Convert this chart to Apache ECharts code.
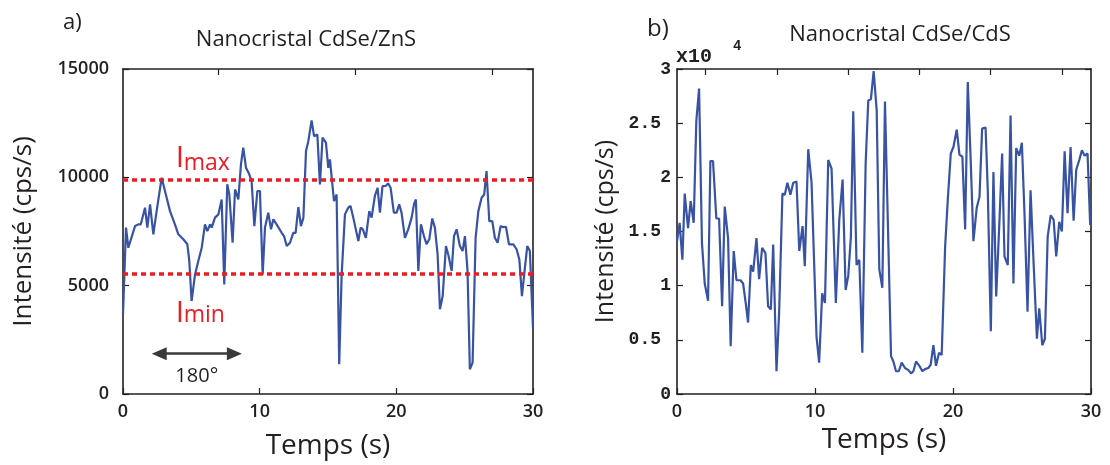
<!DOCTYPE html>
<html>
<head>
<meta charset="utf-8">
<script src="https://cdn.jsdelivr.net/npm/echarts@6/dist/echarts.min.js"></script>
<style>
html,body{margin:0;padding:0;background:#fff;}
#chart{width:1110px;height:465px;}
</style>
</head>
<body>
<div id="chart"></div>
<script>
// ---- Panel a) Nanocristal CdSe/ZnS ----
const timeA = [0.00,0.22,0.39,0.88,1.12,1.30,1.61,1.78,1.98,2.22,2.46,2.83,3.07,3.44,3.80,4.05,4.41,4.71,4.85,5.02,
5.27,5.51,5.76,6.00,6.17,6.37,6.49,6.73,6.98,7.22,7.41,7.63,7.78,8.02,8.20,8.44,8.63,8.80,9.00,9.24,
9.41,9.61,9.83,10.02,10.22,10.39,10.63,10.83,11.00,11.24,11.61,11.78,11.98,12.22,12.46,12.63,12.83,13.02,13.20,13.39,
13.56,13.80,13.98,14.22,14.41,14.60,14.85,15.02,15.14,15.44,15.63,15.82,16.00,16.24,16.48,16.65,16.85,17.22,17.39,17.55,
17.77,18.02,18.19,18.43,18.63,18.80,18.99,19.22,19.41,19.58,19.82,20.02,20.21,20.38,20.63,20.87,21.12,21.29,21.43,21.61,
21.80,22.02,22.21,22.41,22.63,22.82,23.02,23.19,23.39,23.63,23.80,24.05,24.22,24.41,24.65,24.85,25.02,25.21,25.38,25.58,
25.80,26.00,26.24,26.43,26.60,26.80,27.02,27.21,27.41,27.63,27.82,28.02,28.24,28.56,28.80,29.00,29.19,29.41,29.58,29.77,30.00];
const intensityA = [3680,7680,6750,7750,7830,7830,8600,7680,8750,7370,8440,9980,9370,8440,7830,7370,7140,6910,6140,4290,
5520,6140,6750,7830,7520,7830,7680,8140,8290,8980,5060,9680,9210,6980,9440,8980,10600,11370,10440,10140,
9830,7750,9370,9370,5520,7680,8370,7600,8060,7830,7440,7290,6830,6980,7440,7440,8630,7750,8140,11210,
11670,12630,11900,11980,9670,11830,11600,10440,10830,8900,9210,1370,5520,8290,8600,8680,8140,7060,7680,7600,
7210,8440,8140,9140,9520,8370,9600,9600,9720,9520,8370,8370,8750,8370,7210,7600,8140,8750,8980,5680,
7830,7290,6910,7140,8100,7680,6440,3910,4520,6830,6440,5680,7290,7600,6830,6600,7290,5680,1140,1450,
7210,8440,9060,9210,10290,7980,7980,7210,6980,7750,7700,7720,6910,6910,6680,6210,4520,5830,6830,6600,3060];
const imaxLevel = 9900;
const iminLevel = 5550;
const periodStart = 2.65, periodEnd = 8.15, periodLevel = 1860;
const periodLabel = '180°';

// ---- Panel b) Nanocristal CdSe/CdS (values in units of 10^4 cps/s) ----
const timeB = [0.00,0.19,0.39,0.56,0.80,0.99,1.21,1.40,1.60,1.81,2.01,2.25,2.42,2.61,2.85,3.05,3.27,3.46,3.70,3.89,
4.11,4.31,4.60,4.79,4.98,5.15,5.35,5.52,5.76,5.95,6.17,6.41,6.60,6.80,6.97,7.21,7.40,7.64,7.81,8.00,
8.22,8.42,8.66,8.86,9.10,9.26,9.51,9.75,10.11,10.30,10.52,10.72,10.96,11.20,11.51,11.76,12.00,12.22,12.41,12.60,
12.77,13.01,13.21,13.43,13.67,13.86,14.05,14.25,14.47,14.66,14.88,15.07,15.51,15.68,15.87,16.07,16.28,16.52,16.77,16.96,
17.13,17.32,17.56,17.78,17.97,18.21,18.38,18.58,18.77,18.99,19.18,19.43,19.62,19.84,20.03,20.27,20.47,20.68,20.88,21.07,
21.29,21.48,21.72,21.92,22.11,22.36,22.52,22.74,22.93,23.13,23.35,23.56,23.73,23.97,24.17,24.38,24.58,24.80,24.99,25.18,
25.40,25.62,25.84,26.08,26.25,26.47,26.66,26.86,27.08,27.29,27.48,27.70,27.89,28.09,28.30,28.52,28.74,28.93,29.15,29.34,
29.54,29.75,29.94];
const intensityB = [1.41,1.58,1.24,1.85,1.53,1.78,1.58,2.52,2.82,1.39,1.02,0.86,2.15,2.15,1.62,1.62,0.81,1.73,1.44,0.44,
1.32,1.05,1.05,1.02,0.84,0.66,1.19,1.13,1.44,1.06,1.35,1.30,0.81,0.78,1.38,0.21,0.75,1.85,1.84,1.95,
1.84,1.95,1.96,1.32,1.55,1.18,2.26,1.95,0.53,0.29,0.93,0.84,2.16,2.08,0.84,1.61,1.98,0.96,1.09,1.45,
2.61,1.19,1.24,0.38,2.13,2.71,2.72,2.98,2.62,1.15,0.98,2.70,0.35,0.30,0.21,0.21,0.29,0.24,0.22,0.19,
0.21,0.30,0.26,0.21,0.23,0.24,0.27,0.45,0.26,0.38,0.36,1.36,1.79,2.22,2.28,2.44,2.21,2.19,1.52,2.88,
2.13,1.41,1.72,1.82,2.45,2.46,1.88,0.58,2.05,0.90,1.55,2.22,1.27,1.19,2.57,1.02,2.27,2.20,2.32,1.67,
0.76,1.88,1.21,0.51,0.79,0.45,0.51,1.45,1.65,1.61,1.27,1.59,1.50,2.24,1.67,2.28,1.60,2.07,2.16,2.25,
2.20,2.22,1.56];

// axis labels / ticks
const titleA = 'Nanocristal CdSe/ZnS';
const titleB = 'Nanocristal CdSe/CdS';
const xName = 'Temps (s)';
const yName = 'Intensité (cps/s)';
const topTicksA = [7.0, 17.0, 27.0];
const topTicksB = [2.06, 7.26, 12.41, 17.56, 22.69, 27.92];

const BLUE = '#3853a4', RED = '#ec1c24', INK = '#231f20';
const SANS = 'Open Sans';
const MONO = 'Liberation Mono';

function frameLine(){ return {show:true, onZero:false, lineStyle:{color:INK, width:1.6}}; }
function tick(len){ return {show:true, inside:true, length:len, lineStyle:{color:INK, width:1.2}}; }

const chart = echarts.init(document.getElementById('chart'), null, {renderer:'canvas'});
const option = {
  animation:false,
  backgroundColor:'#fff',
  grid:[
    {left:123, top:69, width:410, height:325},
    {left:677, top:69, width:414, height:325}
  ],
  xAxis:[
    {gridIndex:0, type:'value', min:0, max:30, interval:10, position:'bottom',
     name:xName, nameLocation:'middle', nameGap:38,
     nameTextStyle:{fontFamily:SANS, fontSize:28, color:INK},
     axisLine:frameLine(), axisTick:tick(6), splitLine:{show:false},
     axisLabel:{margin:9, fontFamily:SANS, fontWeight:600, fontSize:18, color:INK}},
    {gridIndex:0, type:'value', min:0, max:30, interval:10, position:'top',
     axisLine:frameLine(), axisTick:Object.assign(tick(6), {customValues:topTicksA}),
     axisLabel:{show:false}, splitLine:{show:false}},
    {gridIndex:1, type:'value', min:0, max:30, interval:10, position:'bottom',
     name:xName, nameLocation:'middle', nameGap:30,
     nameTextStyle:{fontFamily:SANS, fontSize:28, color:INK},
     axisLine:frameLine(), axisTick:tick(6), splitLine:{show:false},
     axisLabel:{margin:9, fontFamily:SANS, fontWeight:600, fontSize:18, color:INK}},
    {gridIndex:1, type:'value', min:0, max:30, interval:5, position:'top',
     axisLine:frameLine(), axisTick:Object.assign(tick(6), {customValues:topTicksB}),
     axisLabel:{show:false}, splitLine:{show:false}}
  ],
  yAxis:[
    {gridIndex:0, type:'value', min:0, max:15000, interval:5000, position:'left',
     name:yName, nameLocation:'middle', nameGap:86,
     nameTextStyle:{fontFamily:SANS, fontSize:26, color:INK},
     axisLine:frameLine(), axisTick:tick(6), splitLine:{show:false},
     axisLabel:{margin:14, fontFamily:SANS, fontWeight:600, fontSize:18, color:INK,
       formatter:function(v){ return String(v); }}},
    {gridIndex:0, type:'value', min:0, max:15000, interval:5000, position:'right',
     axisLine:frameLine(), axisTick:tick(6), axisLabel:{show:false}, splitLine:{show:false}},
    {gridIndex:1, type:'value', min:0, max:3, interval:0.5, position:'left',
     name:yName, nameLocation:'middle', nameGap:59,
     nameTextStyle:{fontFamily:SANS, fontSize:25, color:INK},
     axisLine:frameLine(), axisTick:tick(6), splitLine:{show:false},
     axisLabel:{margin:6, fontFamily:MONO, fontWeight:'bold', fontSize:18, color:INK,
       formatter:function(v){ return Number.isInteger(v) ? String(v) : '{d|'+v+'}'; },
       rich:{d:{fontFamily:MONO, fontWeight:'bold', fontSize:18, color:INK, padding:[0,10,0,0]}}}},
    {gridIndex:1, type:'value', min:0, max:3, interval:0.5, position:'right',
     axisLine:frameLine(), axisTick:tick(6), axisLabel:{show:false}, splitLine:{show:false}}
  ],
  series:[
    {type:'line', xAxisIndex:0, yAxisIndex:0, showSymbol:false, z:3,
     data: timeA.map((t,i)=>[t, intensityA[i]]),
     lineStyle:{color:BLUE, width:2.2}, itemStyle:{color:BLUE},
     markLine:{silent:true, symbol:['none','none'], z:5,
       data:[
         {yAxis:imaxLevel, lineStyle:{color:RED, width:3.5, type:[5,4]}, label:{show:false}},
         {yAxis:iminLevel, lineStyle:{color:RED, width:3.5, type:[5,4]}, label:{show:false}},
         [
           {coord:[periodStart, periodLevel], symbol:'triangle', symbolSize:[13,15],
            lineStyle:{color:'#3a3a3a', width:2.5, type:'solid'},
            label:{show:true, position:'insideMiddleBottom', distance:13, formatter:periodLabel,
                   fontFamily:SANS, fontSize:20, color:INK}},
           {coord:[periodEnd, periodLevel], symbol:'triangle', symbolSize:[13,15],
            lineStyle:{color:'#3a3a3a', width:2.5, type:'solid'},
            label:{show:true, position:'insideMiddleBottom', distance:13, formatter:periodLabel,
                   fontFamily:SANS, fontSize:20, color:INK}}
         ]
       ]}
    },
    {type:'line', xAxisIndex:2, yAxisIndex:2, showSymbol:false,
     data: timeB.map((t,i)=>[t, intensityB[i]]),
     lineStyle:{color:BLUE, width:2.2}, itemStyle:{color:BLUE}}
  ]
};
chart.setOption(option);

// annotations placed from data coordinates
const pMax = chart.convertToPixel({xAxisIndex:0, yAxisIndex:0}, [4.0, imaxLevel]);
const pMin = chart.convertToPixel({xAxisIndex:0, yAxisIndex:0}, [4.0, iminLevel]);
function txt(text, x, y, font, color, align, valign){
  return {type:'text', silent:true, z:10,
    style:{text:text, x:x, y:y, font:font, fill:color,
      align:align||'left', verticalAlign:valign||'middle',
      textAlign:align||'left', textVerticalAlign:valign||'middle'}};
}
chart.setOption({
  graphic:[
    txt('a)', 63, 23, '22px "'+SANS+'"', INK),
    txt('b)', 647, 29, '24px "'+SANS+'"', INK),
    txt(titleA, 306, 40, '22px "'+SANS+'"', INK, 'center'),
    txt(titleB, 900, 35, '22px "'+SANS+'"', INK, 'center'),
    txt('x10', 676, 57, 'bold 20px "'+MONO+'"', INK),
    txt('4', 733, 46, 'bold 14px "'+MONO+'"', INK),
    txt('I', pMax[0]-2, pMax[1]-21, '30px "'+SANS+'"', RED),
    txt('max', pMax[0]+6, pMax[1]-16, '23px "'+SANS+'"', RED),
    txt('I', pMin[0]-2, pMin[1]+40, '30px "'+SANS+'"', RED),
    txt('min', pMin[0]+6, pMin[1]+42, '23px "'+SANS+'"', RED)
  ]
});
</script>
</body>
</html>
